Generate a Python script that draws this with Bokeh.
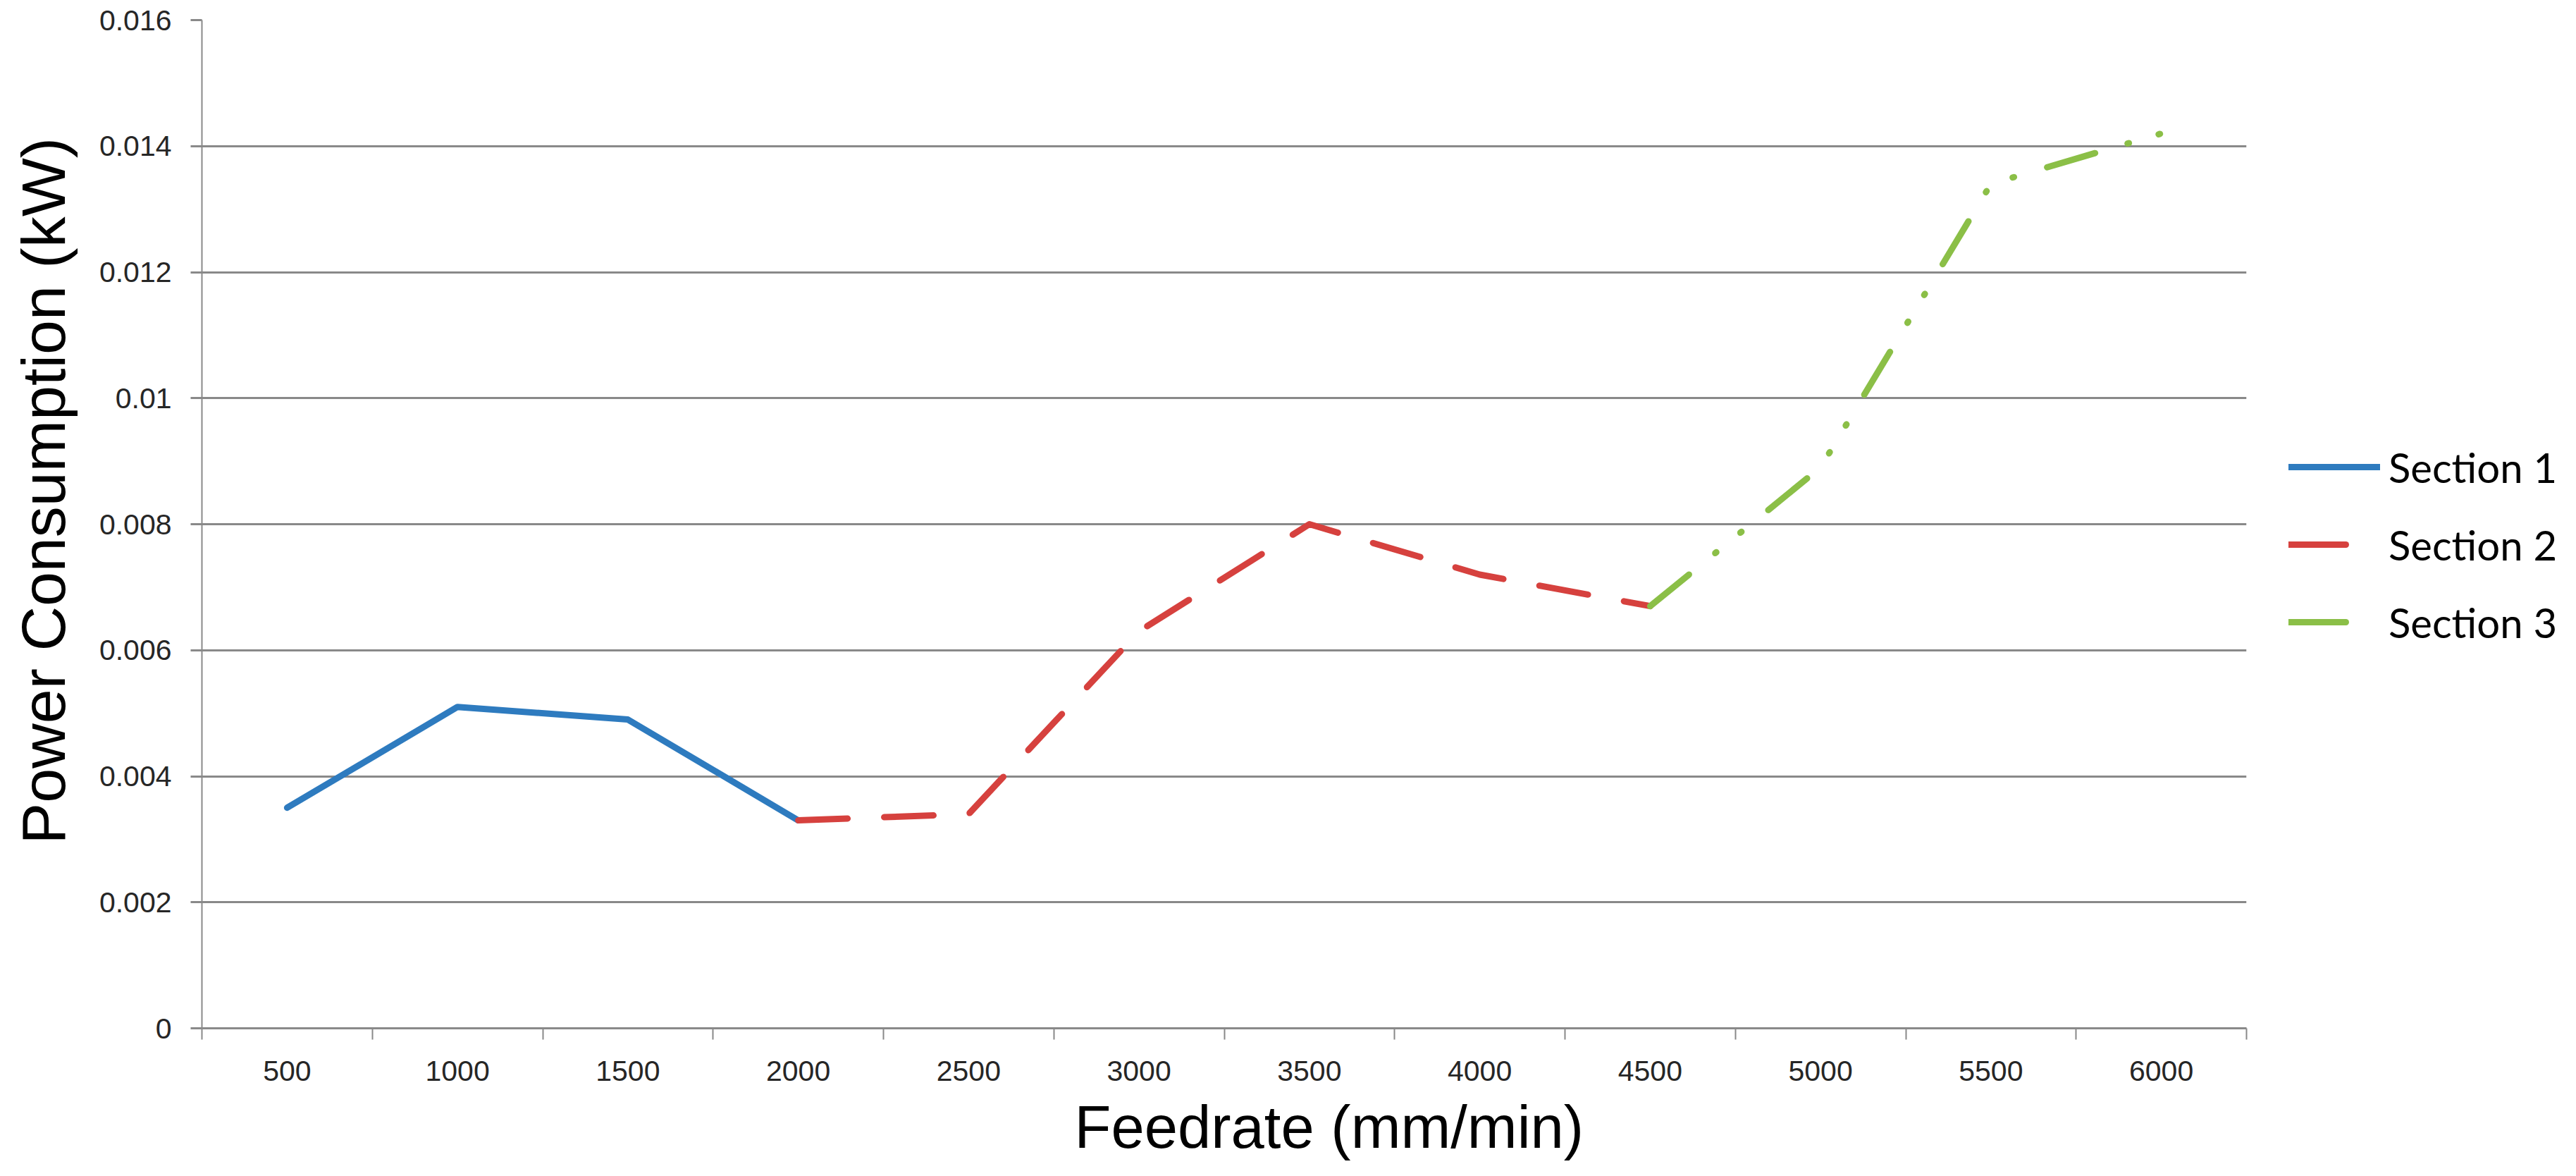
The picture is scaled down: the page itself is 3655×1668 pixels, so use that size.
import numpy as np
from bokeh.plotting import figure
from bokeh.layouts import row
from bokeh.models import FixedTicker, Legend, Range1d, Title
from bokeh.embed import file_html
from bokeh.resources import INLINE

# ---- data ----
categories = ["500", "1000", "1500", "2000", "2500", "3000",
              "3500", "4000", "4500", "5000", "5500", "6000"]

sec1_feed = ["500", "1000", "1500", "2000"]
sec1_power = [0.0035, 0.0051, 0.0049, 0.0033]

sec2_feed = ["2000", "2500", "3000", "3500", "4000", "4500"]
sec2_power = [0.0033, 0.0034, 0.0063, 0.0080, 0.0072, 0.0067]

sec3_feed = ["4500", "5000", "5500", "6000"]
sec3_power = [0.0067, 0.0089, 0.0134, 0.0142]

y_ticks = [0, 0.002, 0.004, 0.006, 0.008, 0.010, 0.012, 0.014, 0.016]
y_tick_labels = ["0", "0.002", "0.004", "0.006", "0.008", "0.01", "0.012", "0.014", "0.016"]

series_names = ["Section 1", "Section 2", "Section 3"]

# ---- styling ----
GRID = "#898989"
TXT = "#262626"
FONT = "Liberation Sans"
BLUE, RED, GREEN = "#2E7BBF", "#D6413E", "#8BBF47"
H = 1658

pos = {c: i + 0.5 for i, c in enumerate(categories)}

p = figure(width=3197, height=H, output_backend="svg", toolbar_location=None,
           x_range=Range1d(0, len(categories)), y_range=Range1d(y_ticks[0], y_ticks[-1]),
           min_border_left=286, min_border_right=10, min_border_top=28, min_border_bottom=194)
p.outline_line_color = None
p.background_fill_color = "white"

r1 = p.line([pos[c] for c in sec1_feed], sec1_power, line_color=BLUE, line_width=9,
            line_join="round", line_cap="round")
r2 = p.line([pos[c] for c in sec2_feed], sec2_power, line_color=RED, line_width=9,
            line_dash="70 52", line_join="round", line_cap="round")
r3 = p.line([pos[c] for c in sec3_feed], sec3_power, line_color=GREEN, line_width=9,
            line_dash="71 48 2 44 2 49", line_join="round", line_cap="round")

# x axis
xa = p.xaxis[0]
xa.ticker = FixedTicker(ticks=[pos[c] for c in categories],
                        minor_ticks=list(range(len(categories) + 1)))
xa.major_label_overrides = {pos[c]: c for c in categories}
xa.major_tick_out = 0
xa.major_tick_in = 0
xa.minor_tick_out = 16
xa.minor_tick_in = 0
xa.minor_tick_line_color = GRID
xa.minor_tick_line_width = 2
xa.axis_line_color = GRID
xa.axis_line_width = 3
xa.major_label_text_font = FONT
xa.major_label_text_font_size = "41px"
xa.major_label_text_color = TXT
xa.major_label_standoff = 30

# y axis
ya = p.yaxis[0]
ya.ticker = FixedTicker(ticks=y_ticks)
ya.major_label_overrides = {t: l for t, l in zip(y_ticks, y_tick_labels)}
ya.major_tick_out = 16
ya.major_tick_in = 0
ya.minor_tick_out = 0
ya.minor_tick_in = 0
ya.major_tick_line_color = GRID
ya.major_tick_line_width = 3
ya.axis_line_color = GRID
ya.axis_line_width = 2
ya.major_label_text_font = FONT
ya.major_label_text_font_size = "41px"
ya.major_label_text_color = TXT
ya.major_label_standoff = 27

p.xgrid.grid_line_color = None
p.ygrid.grid_line_color = GRID
p.ygrid.grid_line_width = 3

# axis titles
spacer = Title(text=" ", text_font_size="2px", standoff=15)
p.add_layout(spacer, "left")
ytitle = Title(text="Power Consumption (kW)", align="left", offset=261,
               text_font=FONT, text_font_size="88px", text_font_style="normal",
               text_color="black", standoff=15, vertical_align="bottom")
p.add_layout(ytitle, "left")
xtitle = Title(text="Feedrate (mm/min)", align="left", offset=1238,
               text_font=FONT, text_font_size="85px", text_font_style="normal",
               text_color="black", standoff=26, vertical_align="bottom")
p.add_layout(xtitle, "below")

# ---- legend panel to the right of the plot ----
pl = figure(width=453, height=H, output_backend="svg", toolbar_location=None,
            x_range=Range1d(0, 1), y_range=Range1d(0, 1),
            min_border=0, min_border_left=0, min_border_right=0,
            min_border_top=0, min_border_bottom=0)
pl.outline_line_color = None
pl.axis.visible = False
pl.grid.visible = False

# key samples (no visible data; one visible dash each, as in the reference key)
nan2 = np.array([np.nan, np.nan])
k1 = pl.line(nan2, nan2, line_color=BLUE, line_width=9, line_cap="round")
k2 = pl.line(nan2, nan2, line_color=RED, line_width=9, line_cap="round", line_dash="81 1000")
k3 = pl.line(nan2, nan2, line_color=GREEN, line_width=9, line_cap="round", line_dash="81 1000")

legend = Legend(items=[(series_names[0], [k1]), (series_names[1], [k2]), (series_names[2], [k3])],
                location=(50, 521), orientation="vertical",
                border_line_color=None, background_fill_alpha=0,
                label_text_font="Lato", label_text_font_size="58px", label_text_color="black",
                glyph_width=130, glyph_height=110, spacing=0, padding=0, margin=0,
                label_standoff=12)
pl.add_layout(legend, "center")

layout = row(p, pl, spacing=0)
open("out.html", "w").write(file_html(layout, INLINE))
